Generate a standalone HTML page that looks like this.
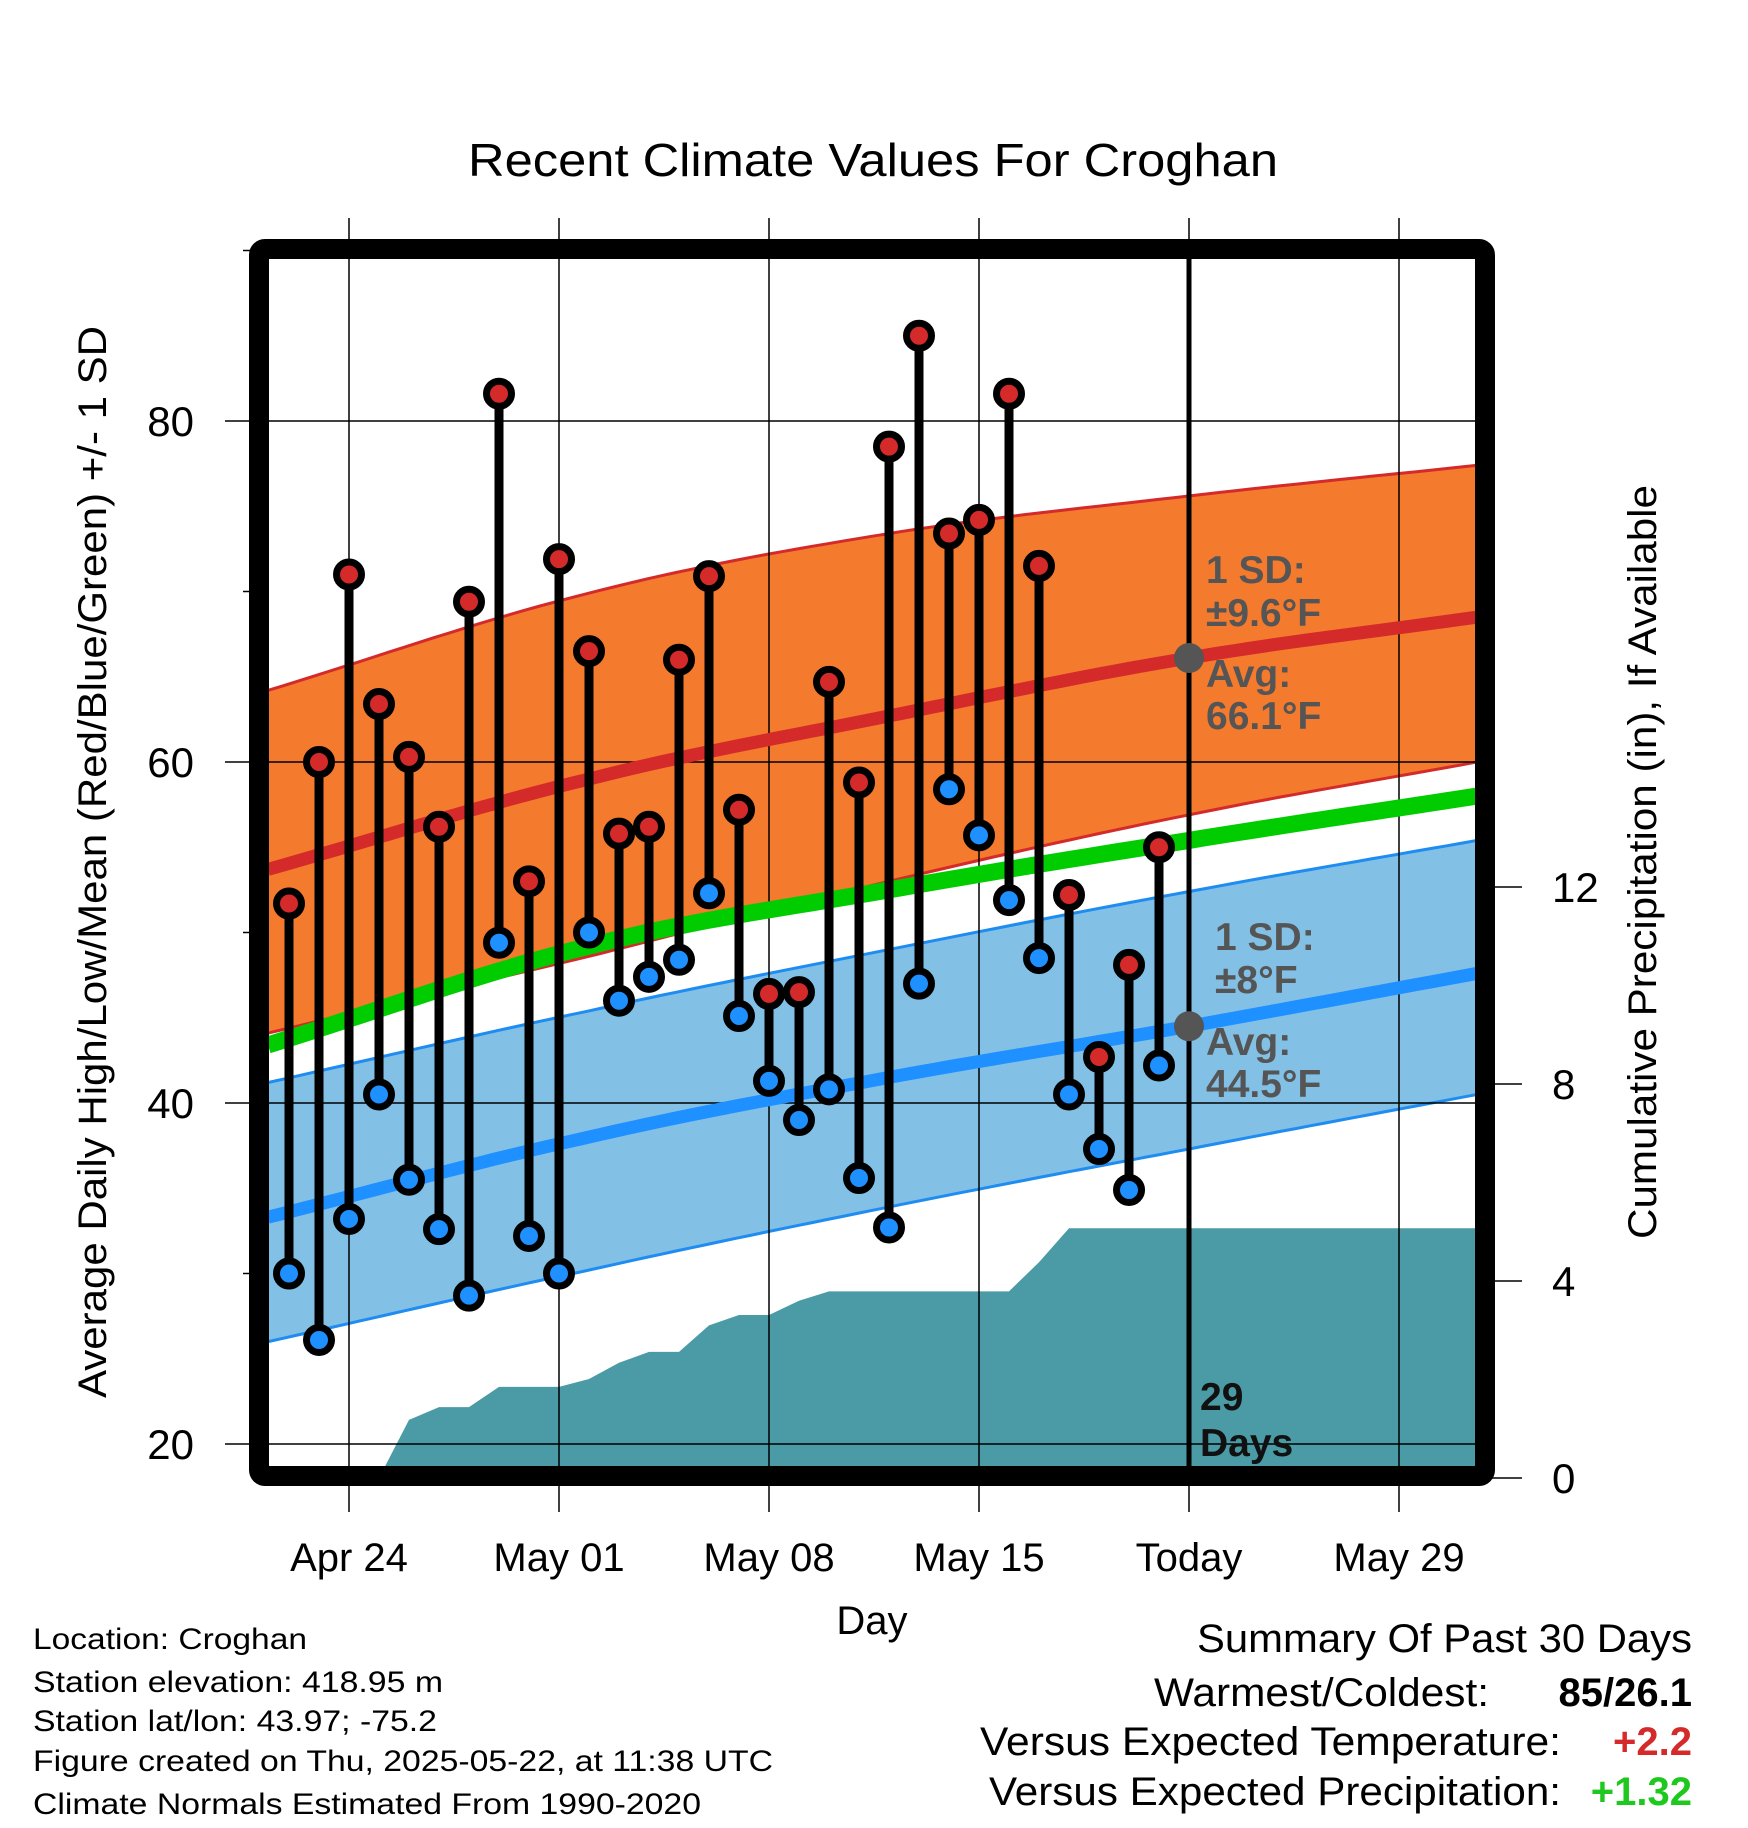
<!DOCTYPE html>
<html><head><meta charset="utf-8">
<style>
html,body{margin:0;padding:0;background:#fff;}
svg{display:block;font-family:"Liberation Sans",Arial,sans-serif;}
</style></head>
<body>
<svg id="chart" width="1748" height="1828" viewBox="0 0 1748 1828" xmlns="http://www.w3.org/2000/svg">
<defs><clipPath id="plotclip"><rect x="269" y="259" width="1206" height="1207"/></clipPath></defs>
<rect x="0" y="0" width="1748" height="1828" fill="#fff"/>
<g id="bands" clip-path="url(#plotclip)"></g>
<g id="grid"></g>
<g id="lines" clip-path="url(#plotclip)"></g>
<g id="marks"></g>
<rect x="259" y="249" width="1226" height="1227" fill="none" stroke="#000" stroke-width="20" rx="6"/>
<text x="873" y="176" font-size="46" text-anchor="middle" textLength="810" lengthAdjust="spacingAndGlyphs">Recent Climate Values For Croghan</text>
<text x="872" y="1634" font-size="40" text-anchor="middle">Day</text>
<text transform="translate(106,862) rotate(-90)" font-size="40" text-anchor="middle" textLength="1072" lengthAdjust="spacingAndGlyphs">Average Daily High/Low/Mean (Red/Blue/Green) +/- 1 SD</text>
<text transform="translate(1656,862) rotate(-90)" font-size="40" text-anchor="middle" textLength="754" lengthAdjust="spacingAndGlyphs">Cumulative Precipitation (in), If Available</text>
<g font-size="39" font-weight="bold" fill="#555">
<text x="1206" y="583">1 SD:</text>
<text x="1206" y="626">±9.6°F</text>
<text x="1206" y="687">Avg:</text>
<text x="1206" y="729">66.1°F</text>
</g>
<g font-size="39" font-weight="bold" fill="#555">
<text x="1215" y="950">1 SD:</text>
<text x="1215" y="993">±8°F</text>
<text x="1206" y="1055">Avg:</text>
<text x="1206" y="1097">44.5°F</text>
</g>
<g font-size="39" font-weight="bold" fill="#111">
<text x="1200" y="1410">29</text>
<text x="1200" y="1456">Days</text>
</g>
<g font-size="30" fill="#000">
<text x="33" y="1649" textLength="274" lengthAdjust="spacingAndGlyphs">Location: Croghan</text>
<text x="33" y="1692" textLength="410" lengthAdjust="spacingAndGlyphs">Station elevation: 418.95 m</text>
<text x="33" y="1731" textLength="404" lengthAdjust="spacingAndGlyphs">Station lat/lon: 43.97; -75.2</text>
<text x="33" y="1771" textLength="740" lengthAdjust="spacingAndGlyphs">Figure created on Thu, 2025-05-22, at 11:38 UTC</text>
<text x="33" y="1814" textLength="668" lengthAdjust="spacingAndGlyphs">Climate Normals Estimated From 1990-2020</text>
</g>
<g font-size="40" fill="#000">
<text x="1692" y="1652" text-anchor="end" textLength="495" lengthAdjust="spacingAndGlyphs">Summary Of Past 30 Days</text>
<text x="1489" y="1706" text-anchor="end" textLength="335" lengthAdjust="spacingAndGlyphs">Warmest/Coldest:</text>
<text x="1692" y="1706" text-anchor="end" font-weight="bold">85/26.1</text>
<text x="1561" y="1755" text-anchor="end" textLength="581" lengthAdjust="spacingAndGlyphs">Versus Expected Temperature:</text>
<text x="1692" y="1755" text-anchor="end" font-weight="bold" fill="#d42a2a">+2.2</text>
<text x="1561" y="1805" text-anchor="end" textLength="572" lengthAdjust="spacingAndGlyphs">Versus Expected Precipitation:</text>
<text x="1692" y="1805" text-anchor="end" font-weight="bold" fill="#1ec81e">+1.32</text>
</g>
</svg>
<script>
// day index 0 = Apr 22
const highs = [51.7,60.0,71.0,63.4,60.3,56.2,69.4,81.6,53.0,71.9,66.5,55.8,56.2,66.0,70.9,57.2,46.4,46.5,64.7,58.8,78.5,85.0,73.4,74.2,81.6,71.5,52.2,42.7,48.1,55.0];
const lows = [30.0,26.1,33.2,40.5,35.5,32.6,28.7,49.4,32.2,30.0,50.0,46.0,47.4,48.4,52.3,45.1,41.3,39.0,40.8,35.6,32.7,47.0,58.4,55.7,51.9,48.5,40.5,37.3,34.9,42.2];
const precip = [0,0,0,0,1.18,1.44,1.44,1.85,1.85,1.85,2.01,2.34,2.56,2.56,3.10,3.31,3.31,3.60,3.79,3.79,3.79,3.79,3.79,3.79,3.79,4.38,5.07,5.07,5.07,5.07];
const normDays = [-0.7,10,20,30,39.6];
const highMean = [53.7,59.0,62.7,66.1,68.5];
const highUpper = [64.2,69.9,73.4,75.6,77.4];
const highLower = [44.1,48.6,53.0,56.9,60.0];
const meanNorm = [43.4,49.2,52.5,55.4,58.0];
const lowMean = [33.3,38.0,41.5,44.5,47.6];
const lowUpper = [41.2,45.4,49.0,52.4,55.4];
const lowLower = [26.0,30.2,33.9,37.3,40.5];
const tempTicks = [20,40,60,80];
const minorTicks = [30,50,70,90];
const precipTicks = [0,4,8,12];
const dateTicks = ["Apr 24","May 01","May 08","May 15","Today","May 29"];
const dateTickDays = [2,9,16,23,30,37];
const todayDay = 30;

const NS = "http://www.w3.org/2000/svg";
const X = d => 289 + 30*d;
const YT = t => 421 + (80 - t)*17.05;
const YP = p => 1478 - p*49.25;
function mk(tag, attrs, parent){const e=document.createElementNS(NS,tag);for(const k in attrs)e.setAttribute(k,attrs[k]);parent.appendChild(e);return e;}
const bands=document.getElementById('bands'), grid=document.getElementById('grid'), lines=document.getElementById('lines'), marks=document.getElementById('marks');

// smooth (Catmull-Rom) interpolation through the normal anchor values
function smoothAt(v,d){
  const n=normDays.length;
  let i=0; while(i<n-2 && d>normDays[i+1]) i++;
  const t=(d-normDays[i])/(normDays[i+1]-normDays[i]);
  const p0=i>0?v[i-1]:2*v[i]-v[i+1], p1=v[i], p2=v[i+1], p3=i+2<n?v[i+2]:2*v[i+1]-v[i];
  const t2=t*t,t3=t2*t;
  return 0.5*((2*p1)+(-p0+p2)*t+(2*p0-5*p1+4*p2-p3)*t2+(-p0+3*p1-3*p2+p3)*t3);
}
function pts(v){const out=[];const d0=normDays[0],d1=normDays[normDays.length-1];for(let k=0;k<=80;k++){const d=d0+(d1-d0)*k/80;out.push(X(d).toFixed(1)+','+YT(smoothAt(v,d)).toFixed(1));}return out;}
function bandPath(up,lo){const a=pts(up), b=pts(lo).reverse();return 'M'+a.join(' L')+' L'+b.join(' L')+' Z';}

let e;
e=mk('path',{d:bandPath(highUpper,highLower),fill:'#f47a2e'},bands);


e=mk('path',{d:bandPath(lowUpper,lowLower),fill:'#82c0e6'},bands);


[[highUpper,'#d42a2a','high-band-upper'],[highLower,'#d42a2a','high-band-lower'],[lowUpper,'#1e8cf0','low-band-upper'],[lowLower,'#1e8cf0','low-band-lower']].forEach(([v,c,n])=>{
  e=mk('polyline',{points:pts(v).join(' '),fill:'none',stroke:c,'stroke-width':3},bands);
  
  
});
// precip area
let pp=['M'+X(0)+','+YP(0)];
precip.forEach((p,i)=>pp.push('L'+X(i)+','+YP(p)));
pp.push('L1480,'+YP(precip[precip.length-1]));
pp.push('L1480,'+YP(0)+' Z');
e=mk('path',{d:pp.join(' '),fill:'#4a9ba5'},bands);



// grid
dateTickDays.forEach((d,i)=>{
  e=mk('line',{x1:X(d),x2:X(d),y1:218,y2:1512,stroke:'#000','stroke-width':1.5},grid);
  
  
  e=mk('text',{x:X(d),y:1571,'font-size':40,'text-anchor':'middle'},grid);
  e.textContent=dateTicks[i];
  
  
});
tempTicks.forEach(t=>{
  e=mk('line',{x1:225,x2:1476,y1:YT(t),y2:YT(t),stroke:'#000','stroke-width':1.5},grid);
  
  
  e=mk('text',{x:194,y:YT(t)+15,'font-size':42,'text-anchor':'end'},grid);
  e.textContent=t;
  
  
});
minorTicks.forEach(t=>{
  e=mk('line',{x1:243,x2:256,y1:YT(t),y2:YT(t),stroke:'#000','stroke-width':1.5},grid);
  
  
});
precipTicks.forEach(p=>{
  e=mk('line',{x1:1485,x2:1522,y1:YP(p),y2:YP(p),stroke:'#000','stroke-width':1.5},grid);
  
  
  e=mk('text',{x:1552,y:YP(p)+15,'font-size':42},grid);
  e.textContent=p;
  
  
});

// mean lines
[[meanNorm,'#00cc00',17,'mean-normal-line'],[highMean,'#d42a2a',13,'high-normal-line'],[lowMean,'#1e90ff',13,'low-normal-line']].forEach(([v,c,w,n])=>{
  e=mk('polyline',{points:pts(v).join(' '),fill:'none',stroke:c,'stroke-width':w},lines);
  
  
});

// stems and markers
highs.forEach((h,i)=>{
  e=mk('line',{x1:X(i),x2:X(i),y1:YT(h),y2:YT(lows[i]),stroke:'#000','stroke-width':9},marks);
  
  
});
highs.forEach((h,i)=>{
  e=mk('circle',{cx:X(i),cy:YT(h),r:12.5,fill:'#d42a2a',stroke:'#000','stroke-width':7},marks);
  
  
  e=mk('circle',{cx:X(i),cy:YT(lows[i]),r:12.5,fill:'#1e90ff',stroke:'#000','stroke-width':7},marks);
  
  
});
// today line
e=mk('line',{x1:X(todayDay),x2:X(todayDay),y1:259,y2:1466,stroke:'#000','stroke-width':5},marks);


e=mk('circle',{cx:X(todayDay),cy:YT(smoothAt(highMean,todayDay)),r:15,fill:'#555'},marks);


e=mk('circle',{cx:X(todayDay),cy:YT(smoothAt(lowMean,todayDay)),r:15,fill:'#555'},marks);


</script>
</body></html>
